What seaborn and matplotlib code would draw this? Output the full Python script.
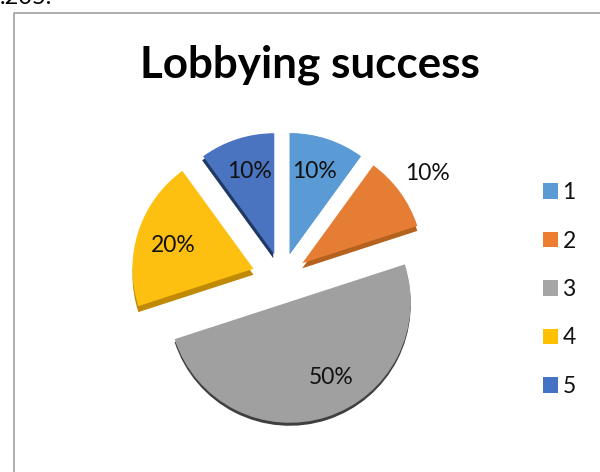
import matplotlib
matplotlib.use("Agg")
import matplotlib.pyplot as plt
import seaborn as sns
from matplotlib.patches import Patch

categories = ["1", "2", "3", "4", "5"]
shares = [10, 10, 50, 20, 10]
face_colors = ["#5B9BD5", "#E57E34", "#A0A0A0", "#FDC010", "#4A74C0"]
side_colors = ["#5B9BD5", "#B5621F", "#3F3F3F", "#C08A06", "#1F3864"]
legend_colors = ["#5B9BD5", "#ED7D31", "#A5A5A5", "#FFC000", "#4472C4"]
title = "Lobbying success"
cut_text = ".205."

sns.set_theme(style="white")
plt.rcParams["font.family"] = ["Lato", "DejaVu Sans"]

W, H = 600, 472
fig = plt.figure(figsize=(W / 100, H / 100), dpi=100)
ax = fig.add_axes([0, 0, 1, 1])

cx, cy, r = 282, H - 278, 121
explode = [25, 25, 25, 30, 25]
common = dict(startangle=90, counterclock=False, explode=explode, radius=r,
              wedgeprops=dict(linewidth=0))

# extruded side of the pie, then the top face
side_wedges, _ = ax.pie(shares, colors=side_colors, center=(cx, cy), **common)
side_offsets = [(0, 0), (0, -5), (0, -3), (0, -6), (-1, -4)]
for w, (dx, dy) in zip(side_wedges, side_offsets):
    w.set_center((w.center[0] + dx, w.center[1] + dy))
wedges, _, autotexts = ax.pie(shares, colors=face_colors, center=(cx, cy),
                              autopct="%d%%", **common)

label_xy = [(314, 171), (427, 173), (331, 377), (173, 246), (249, 171)]
for t, (x, y) in zip(autotexts, label_xy):
    t.set_position((x, H - y))
    t.set_fontsize(16.5)
    t.set_color("#111111")
    t.set_ha("center")
    t.set_va("center")

ax.set_xlim(0, W)
ax.set_ylim(0, H)
ax.set_aspect("equal")
ax.axis("off")

# chart frame: only top and left edges fall inside the crop
ax.plot([13.5, 13.5, W], [0, H - 12.5, H - 12.5], color="#A0A0A0", lw=1.2,
        clip_on=False)

ax.text(309.5, H - 65, title, fontsize=31.7, fontweight="bold", color="black",
        ha="center", va="center")
fig.text(0.0, 1 - 4 / H, cut_text, fontsize=17, color="black",
         ha="left", va="baseline")

handles = [Patch(facecolor=c, edgecolor="none") for c in legend_colors]
ax.legend(handles, categories, loc="center left",
          bbox_to_anchor=(543 / W, 1 - 289.5 / H), bbox_transform=fig.transFigure,
          frameon=False, fontsize=16.5, handlelength=0.65, handleheight=0.65,
          handletextpad=0.2, labelspacing=1.2, borderpad=0, borderaxespad=0,
          labelcolor="#111111")

fig.savefig("out.png", dpi=100)
